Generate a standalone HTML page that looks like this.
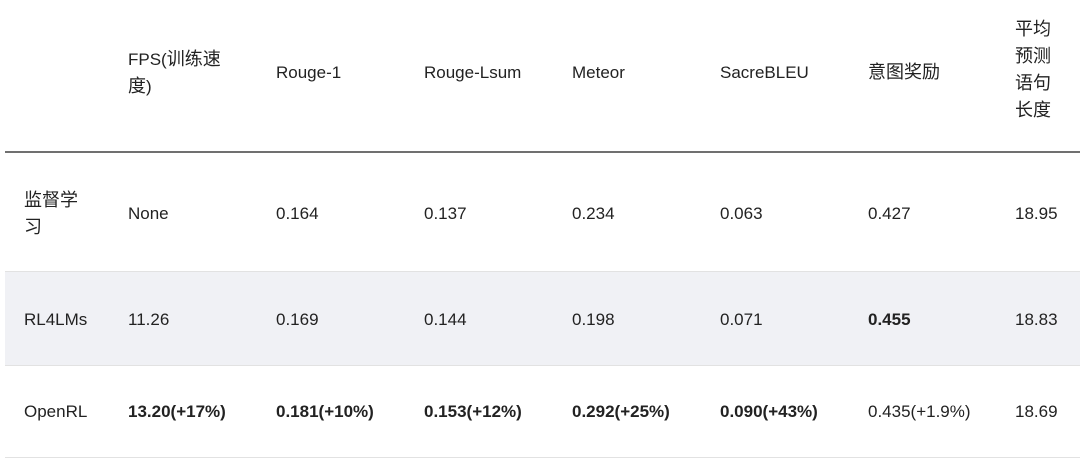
<!DOCTYPE html>
<html><head><meta charset="utf-8"><style>
body{margin:0;width:1080px;height:465px;background:#fff;font-family:"Liberation Sans","Noto Sans CJK SC",sans-serif;color:#222;font-size:17px;position:relative;overflow:hidden}
.t{position:absolute;line-height:27px;white-space:nowrap}
.c{font-size:18px}
.b{font-weight:bold}
.l{position:absolute;left:5px;right:0;height:1px;background:#e2e2e2}
</style></head><body>
<div style="position:absolute;left:5px;right:0;top:151px;height:2px;background:#707070"></div>
<div style="position:absolute;left:5px;right:0;top:271px;height:94px;background:#f0f1f5"></div>
<div class="l" style="top:271px"></div>
<div class="l" style="top:365px"></div>
<div class="l" style="top:457px"></div>

<div class="t" style="left:128px;top:46px">FPS(<span class="c">训练速</span><br><span class="c">度</span>)</div>
<div class="t" style="left:276px;top:59px">Rouge-1</div>
<div class="t" style="left:424px;top:59px">Rouge-Lsum</div>
<div class="t" style="left:572px;top:59px">Meteor</div>
<div class="t" style="left:720px;top:59px">SacreBLEU</div>
<div class="t c" style="left:868px;top:59px">意图奖励</div>
<div class="t c" style="left:1015px;top:16px">平均<br>预测<br>语句<br>长度</div>

<div class="t c" style="left:24px;top:187px">监督学<br>习</div>
<div class="t" style="left:128px;top:200px">None</div>
<div class="t" style="left:276px;top:200px">0.164</div>
<div class="t" style="left:424px;top:200px">0.137</div>
<div class="t" style="left:572px;top:200px">0.234</div>
<div class="t" style="left:720px;top:200px">0.063</div>
<div class="t" style="left:868px;top:200px">0.427</div>
<div class="t" style="left:1015px;top:200px">18.95</div>

<div class="t" style="left:24px;top:306px">RL4LMs</div>
<div class="t" style="left:128px;top:306px">11.26</div>
<div class="t" style="left:276px;top:306px">0.169</div>
<div class="t" style="left:424px;top:306px">0.144</div>
<div class="t" style="left:572px;top:306px">0.198</div>
<div class="t" style="left:720px;top:306px">0.071</div>
<div class="t b" style="left:868px;top:306px">0.455</div>
<div class="t" style="left:1015px;top:306px">18.83</div>

<div class="t" style="left:24px;top:398px">OpenRL</div>
<div class="t b" style="left:128px;top:398px">13.20(+17%)</div>
<div class="t b" style="left:276px;top:398px">0.181(+10%)</div>
<div class="t b" style="left:424px;top:398px">0.153(+12%)</div>
<div class="t b" style="left:572px;top:398px">0.292(+25%)</div>
<div class="t b" style="left:720px;top:398px">0.090(+43%)</div>
<div class="t" style="left:868px;top:398px">0.435(+1.9%)</div>
<div class="t" style="left:1015px;top:398px">18.69</div>
</body></html>
